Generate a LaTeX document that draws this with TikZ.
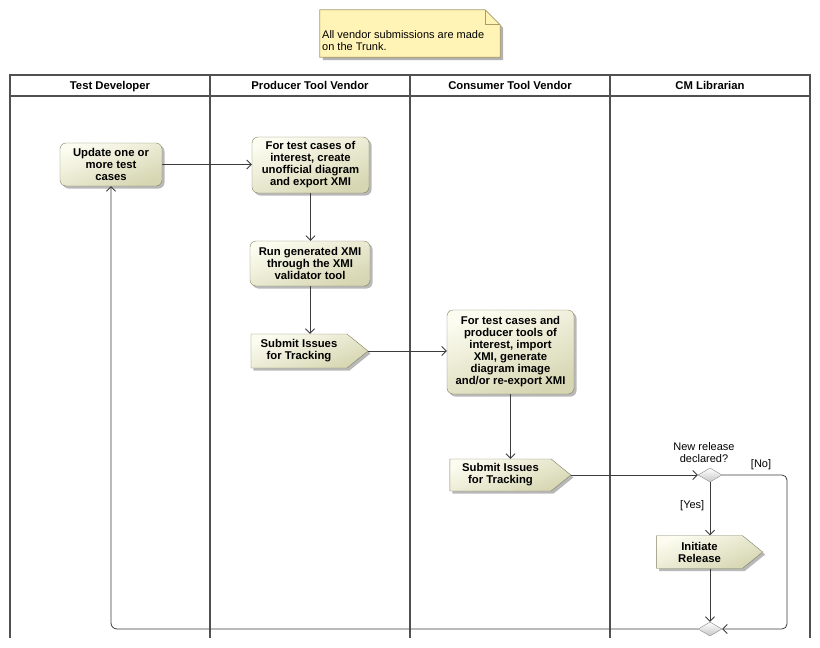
\documentclass[tikz,border=0pt]{standalone}
\usepackage{fontspec}
\setmainfont{Liberation Sans}
\usetikzlibrary{arrows.meta,shapes.geometric,shapes.symbols,shadows}

\definecolor{actfill}{RGB}{252,252,240}
\definecolor{actshade}{RGB}{214,214,178}
\definecolor{actline}{RGB}{128,128,98}
\definecolor{notefill}{RGB}{255,243,182}
\definecolor{noteline}{RGB}{170,155,105}
\definecolor{laneline}{RGB}{80,80,80}
\definecolor{flowline}{RGB}{60,60,60}

\tikzset{
  shade box/.style={drop shadow={shadow xshift=2.5pt,shadow yshift=-2.5pt,fill=black!28,opacity=1}},
  boldtext/.style={font=\fontsize{11.3}{12}\selectfont\bfseries},
  action/.style={rectangle,rounded corners=6pt,draw=actline,top color=actfill,bottom color=actshade,
    shading angle=20,align=center,boldtext,inner sep=2pt,shade box},
  sendsig/.style={signal,signal to=east,signal pointer angle=78,draw=actline,top color=actfill,
    bottom color=actshade,shading angle=20,align=center,boldtext,inner sep=2pt,shade box},
  choice/.style={diamond,draw=black!45,top color=white,bottom color=black!22,
    minimum width=24pt,minimum height=14pt,inner sep=0pt},
  lane/.style={draw=laneline,line width=2.4pt},
  lanehead/.style={boldtext,anchor=base},
  flow/.style={->,draw=flowline,line width=0.8pt},
  guard/.style={font=\fontsize{11}{12}\selectfont,align=center}
}

\begin{document}
\begin{tikzpicture}[x=1pt,y=-1pt,>={Straight Barb[length=4.5pt,width=9pt]},
  font=\fontsize{11}{12}\selectfont]
\useasboundingbox (0,0) rectangle (820,648);

%%% note
\node[minimum width=180pt,minimum height=47pt,inner sep=0pt] (note) at (410,33.5) {};
\path[fill=notefill,draw=noteline,line width=0.7pt,
  drop shadow={shadow xshift=3pt,shadow yshift=-3pt,fill=black!30,opacity=1}]
  (note.north west) -- ([xshift=-15pt]note.north east) -- ([yshift=-15pt]note.north east)
  -- (note.south east) -- (note.south west) -- cycle;
\draw[draw=noteline,line width=0.7pt] ([xshift=-15pt]note.north east) |- ([yshift=-15pt]note.north east);
\node[anchor=west,align=left,inner sep=0pt] (notetext) at (322,40.5)
  {All vendor submissions are made\\on the Trunk.};

%%% swimlanes
\draw[lane] (10,75) rectangle (810,96);
\foreach \x in {10,210,410,610,810}
  \draw[lane] (\x,75) -- (\x,638);
\node[lanehead] (lane-dev) at (110,89) {Test Developer};
\node[lanehead] (lane-prod) at (310,89) {Producer Tool Vendor};
\node[lanehead] (lane-cons) at (510,89) {Consumer Tool Vendor};
\node[lanehead] (lane-cm) at (710,89) {CM Librarian};

%%% actions
\node[action,minimum width=102pt,minimum height=43pt] (upd) at (111,164.5)
  {Update one or\\more test\\cases};
\node[action,minimum width=117pt,minimum height=56pt] (createxmi) at (310.5,165)
  {For test cases of\\interest, create\\unofficial diagram\\and export XMI};
\node[action,minimum width=120pt,minimum height=45pt] (validate) at (310,263.5)
  {Run generated XMI\\through the XMI\\validator tool};
\node[sendsig,minimum width=117pt,minimum height=34pt] (submitA) at (299,351)
  {Submit Issues\\for Tracking};
\node[action,minimum width=127pt,minimum height=84pt] (importxmi) at (510.5,352)
  {For test cases and\\producer tools of\\interest, import\\XMI, generate\\diagram image\\and/or re-export XMI};
\node[sendsig,minimum width=121pt,minimum height=32pt] (submitB) at (500.5,475)
  {Submit Issues\\for Tracking};
\node[choice] (decide) at (710,475) {};
\node[guard,anchor=south] (decidelbl) at (704,466) {New release\\declared?};
\node[sendsig,minimum width=106pt,minimum height=33pt] (release) at (699.5,552)
  {Initiate\\Release};
\node[choice] (merge) at (710,629) {};

%%% flows
\draw[flow] (upd.east) -- (upd.east -| createxmi.west);
\draw[flow] (createxmi.south) -- (createxmi.south |- validate.north);
\draw[flow] (validate.south) -- (validate.south |- submitA.north);
\draw[flow] (submitA.east) -- (submitA.east -| importxmi.west);
\draw[flow] (importxmi.south) -- (importxmi.south |- submitB.north);
\draw[flow] (submitB.east) -- (decide.west);
\draw[flow] (decide.south) -- node[guard,left=2pt,pos=0.45] {[Yes]} (decide.south |- release.north);
\coordinate (noturn) at (787,629);
\draw[flow,rounded corners=5pt] (decide.east) -| node[guard,above=1pt,pos=0.3] {[No]} (noturn) -- (merge.east);
\draw[flow] (merge.north |- release.south) -- (merge.north);
\draw[flow,rounded corners=6pt] (merge.west) -| (upd.south);
\end{tikzpicture}
\end{document}
